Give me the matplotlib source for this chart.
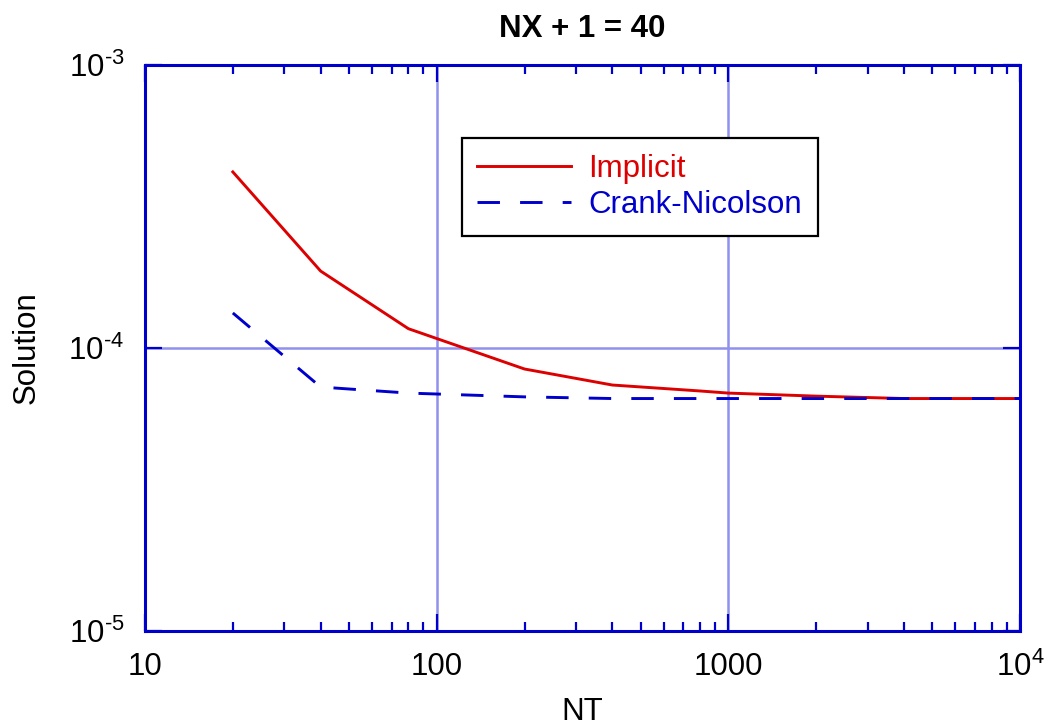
import matplotlib
matplotlib.use('Agg')
import matplotlib.pyplot as plt
from matplotlib.ticker import FixedLocator, NullLocator

plt.rcParams['font.family'] = ['Liberation Sans', 'DejaVu Sans']
plt.rcParams['mathtext.fontset'] = 'custom'
plt.rcParams['mathtext.rm'] = 'Liberation Sans'
plt.rcParams['mathtext.it'] = 'Liberation Sans:italic'
plt.rcParams['mathtext.bf'] = 'Liberation Sans:bold'

# ---- data ----
nt_implicit = [20, 40, 80, 200, 400, 800, 1000, 2000, 4000, 10000]
sol_implicit = [4.19e-4, 1.87e-4, 1.17e-4, 8.43e-5, 7.40e-5, 7.05e-5, 6.93e-5, 6.76e-5, 6.63e-5, 6.63e-5]
nt_cn = [20, 40, 80, 200, 400, 1000, 10000]
sol_cn = [1.33e-4, 7.28e-5, 6.93e-5, 6.72e-5, 6.63e-5, 6.63e-5, 6.63e-5]

x_ticks = [10, 100, 1000, 10000]
x_tick_labels = ['10', '100', '1000', r'$10^{4}$']
y_ticks = [1e-5, 1e-4, 1e-3]
y_tick_labels = [r'$10^{\text{-}5}$', r'$10^{\text{-}4}$', r'$10^{\text{-}3}$']
x_minor = [m * d for d in (10, 100, 1000) for m in range(2, 10)]

title = 'NX + 1 = 40'
xlabel = 'NT'
ylabel = 'Solution'
series_labels = ['Implicit', 'Crank-Nicolson']

# ---- style ----
RED = '#DD0000'
BLUE = '#0000CC'
SPINE = '#0000CC'
GRID = '#9090EE'
FS = 22.5

fig = plt.figure(figsize=(10.54, 7.27), dpi=100)
ax = fig.add_axes([0.1376, 0.1320, 0.8302, 0.7786])
ax.set_xscale('log')
ax.set_yscale('log')
ax.set_xlim(10, 10000)
ax.set_ylim(1e-5, 1e-3)

ax.plot(nt_implicit, sol_implicit, color=RED, lw=2.1, label=series_labels[0])
ax.plot(nt_cn, sol_cn, color=BLUE, lw=2.1, dashes=(7.7, 6.9), label=series_labels[1])

ax.xaxis.set_major_locator(FixedLocator(x_ticks))
ax.set_xticklabels(x_tick_labels)
ax.xaxis.set_minor_locator(FixedLocator(x_minor))
ax.yaxis.set_major_locator(FixedLocator(y_ticks))
ax.set_yticklabels(y_tick_labels)
ax.yaxis.set_minor_locator(NullLocator())

ax.grid(True, which='major', color=GRID, lw=1.8)
for s in ax.spines.values():
    s.set_color(SPINE)
    s.set_linewidth(2.2)

ax.tick_params(which='both', direction='in', top=True, right=True, color=SPINE, labelsize=FS, pad=15)
ax.tick_params(which='major', length=12, width=1.6)
ax.tick_params(which='minor', length=6.5, width=1.6)

ax.set_title(title, fontsize=FS, fontweight='bold', pad=20)
ax.set_xlabel(xlabel, fontsize=FS, labelpad=10)
ax.set_ylabel(ylabel, fontsize=FS, labelpad=19)

leg = ax.legend(loc='upper left', bbox_to_anchor=(0.362, 0.871), borderaxespad=0,
                fontsize=FS, frameon=True, fancybox=False, framealpha=1,
                edgecolor='black', handlelength=3.0, handletextpad=0.55,
                borderpad=0.5, labelspacing=0.2, labelcolor='linecolor')
leg.get_frame().set_linewidth(1.6)

fig.savefig('out.png', dpi=100)
